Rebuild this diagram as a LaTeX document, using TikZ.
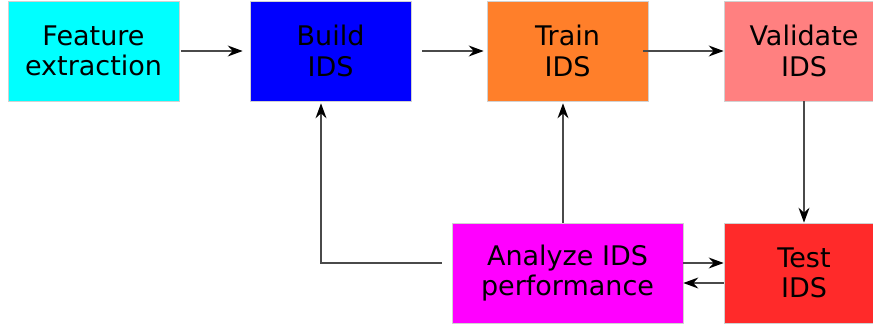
\documentclass[tikz,border=0pt]{standalone}
\usepackage{fontspec}
\setmainfont{DejaVu Sans}
\usetikzlibrary{arrows.meta}
\definecolor{cfeat}{HTML}{00FFFF}
\definecolor{cbuild}{HTML}{0000FF}
\definecolor{ctrain}{HTML}{FF7F2A}
\definecolor{cvalid}{HTML}{FF8080}
\definecolor{canalyze}{HTML}{FF00FF}
\definecolor{ctest}{HTML}{FF2A2A}
\definecolor{cline}{HTML}{4A4A4A}
\tikzset{
  stage/.style={rectangle, draw=black!18, line width=0.7pt, inner sep=0pt,
    minimum height=100pt, align=center,
    font=\fontsize{27}{30.5}\selectfont},
  flow/.style={draw=cline, line width=1.3pt,
    -{Stealth[length=15pt,width=11pt,inset=5pt,color=black,fill=black]}}
}
\begin{document}
\begin{tikzpicture}[x=1pt,y=-1pt]
  \useasboundingbox (0,0) rectangle (873,325);
  \clip (0,0) rectangle (873,325);
  % process stages
  \node[stage, fill=cfeat,    minimum width=171pt] (feat)    at (93.5,51)  {Feature\\extraction};
  \node[stage, fill=cbuild,   minimum width=161pt] (build)   at (330.5,51) {Build\\IDS};
  \node[stage, fill=ctrain,   minimum width=161pt] (train)   at (567.5,51) {Train\\IDS};
  \node[stage, fill=cvalid,   minimum width=160pt] (valid)   at (804,51)   {Validate\\IDS};
  \node[stage, fill=canalyze, minimum width=231pt] (analyze) at (567.5,273) {Analyze IDS\\performance};
  \node[stage, fill=ctest,    minimum width=160pt] (test)    at (804,273)  {Test\\IDS};
  % forward pipeline
  \draw[flow] ([xshift=1.5pt]feat.east) -- ([xshift=-7pt]build.west);
  \draw[flow] ([xshift=11pt]build.east) -- ([xshift=-3pt]train.west);
  \draw[flow] ([xshift=-5pt]train.east) -- (valid.west);
  \draw[flow] (valid.south) -- (test.north);
  % feedback loops
  \draw[flow] ([xshift=-4.5pt]analyze.north) -- ([xshift=-4.5pt,yshift=-2pt]train.south);
  \draw[flow] ([xshift=-10pt,yshift=10pt]analyze.west) -| ([xshift=-9.5pt,yshift=-2pt]build.south);
  \draw[flow] ([yshift=10pt]analyze.east) -- ([yshift=10pt]test.west);
  \draw[flow] ([yshift=-10pt]test.west) -- ([yshift=-10pt]analyze.east);
\end{tikzpicture}
\end{document}
